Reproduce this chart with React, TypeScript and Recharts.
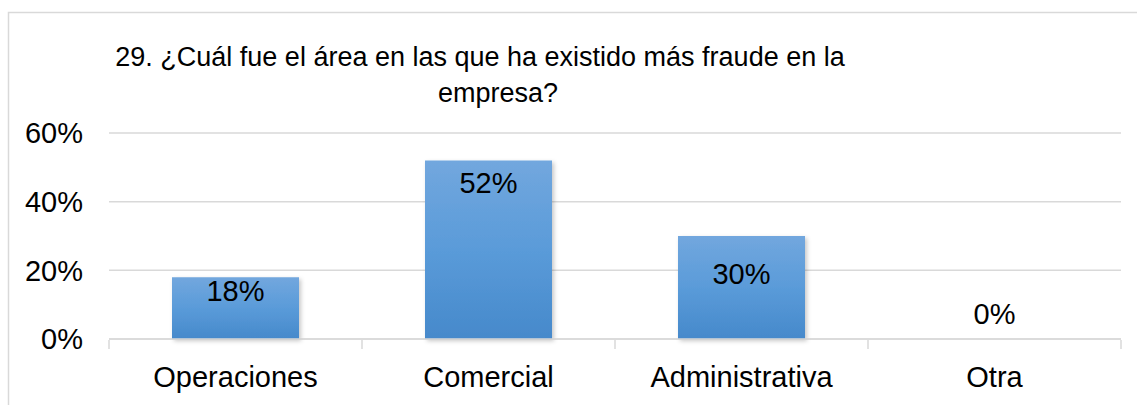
import React from "react";
import { ComposedChart, Bar, Line, XAxis, YAxis, CartesianGrid, LabelList } from "recharts";

const categories = ["Operaciones", "Comercial", "Administrativa", "Otra"];
const shares = [0.18, 0.52, 0.3, 0];
const yTicks = [0, 0.2, 0.4, 0.6];
const boundaryTicks = [0, 1, 2, 3, 4];

// manual label offsets from bar top (as placed in the original)
const labelDy = [14, 23, 38, -25];

const data = categories.map((name, i) => ({ name, value: shares[i], pos: i + 0.5 }));

const FONT = "'Liberation Sans', Arial, sans-serif";
const GRID = "#d9d9d9";

const pct = (v: number) => `${Math.round(v * 100)}%`;

function PointLabel(props: any) {
  const { x, y, value, index } = props;
  return (
    <text
      x={x}
      y={y + labelDy[index]}
      textAnchor="middle"
      dominantBaseline="central"
      fontSize={29}
      fontFamily={FONT}
      fill="#000"
    >
      {pct(value)}
    </text>
  );
}

export default function App() {
  return (
    <div style={{ position: "absolute", left: 0, top: 0, width: 1137, height: 405, background: "#fff" }}>
      <svg width={1137} height={405} style={{ position: "absolute", left: 0, top: 0 }}>
        <path d="M8.5 405 L8.5 12.5 L1137 12.5" fill="none" stroke={GRID} strokeWidth={1.5} />
        <text x={480} y={57} textAnchor="middle" dominantBaseline="central" fontSize={27} fontFamily={FONT} fill="#000">
          29. ¿Cuál fue el área en las que ha existido más fraude en la
        </text>
        <text x={498} y={93} textAnchor="middle" dominantBaseline="central" fontSize={27} fontFamily={FONT} fill="#000">
          empresa?
        </text>
      </svg>
      <div style={{ position: "absolute", left: 0, top: 0 }}>
        <ComposedChart width={1137} height={405} data={data} margin={{ top: 133, right: 16, bottom: 64, left: 9 }}>
          <defs>
            <linearGradient id="barGrad" x1="0" y1="0" x2="0" y2="1">
              <stop offset="0%" stopColor="#72a7de" />
              <stop offset="50%" stopColor="#5a9bd9" />
              <stop offset="100%" stopColor="#4689cb" />
            </linearGradient>
            <filter id="barShadow" x="-10%" y="-10%" width="130%" height="130%">
              <feDropShadow dx="2" dy="2" stdDeviation="2" floodColor="#000" floodOpacity="0.22" />
            </filter>
          </defs>
          <CartesianGrid vertical={false} stroke={GRID} strokeWidth={1.5} />
          <XAxis
            dataKey="name"
            xAxisId="cat"
            axisLine={{ stroke: GRID, strokeWidth: 1.5 }}
            tickLine={false}
            tickSize={0}
            tickMargin={27}
            interval={0}
            height={1}
            tick={{ fill: "#000", fontSize: 29, fontFamily: FONT }}
          />
          <XAxis
            xAxisId="edge"
            type="number"
            dataKey="pos"
            domain={[0, 4]}
            ticks={boundaryTicks}
            axisLine={false}
            tickLine={{ stroke: GRID, strokeWidth: 1.5 }}
            tickSize={9}
            tickFormatter={() => ""}
            height={1}
          />
          <YAxis
            domain={[0, 0.6]}
            ticks={yTicks}
            tickFormatter={pct}
            axisLine={false}
            tickLine={false}
            tickSize={0}
            tickMargin={26}
            width={100}
            tick={{ fill: "#000", fontSize: 29, fontFamily: FONT }}
          />
          <Bar
            dataKey="value"
            xAxisId="cat"
            barSize={127}
            fill="url(#barGrad)"
            filter="url(#barShadow)"
            isAnimationActive={false}
          />
          <Line
            dataKey="value"
            xAxisId="cat"
            stroke="none"
            dot={false}
            activeDot={false}
            isAnimationActive={false}
          >
            <LabelList dataKey="value" content={<PointLabel />} />
          </Line>
        </ComposedChart>
      </div>
    </div>
  );
}
